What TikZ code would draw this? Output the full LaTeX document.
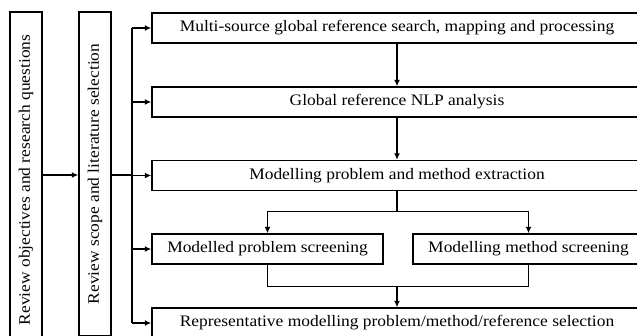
\documentclass[tikz,border=0pt]{standalone}
\usepackage{fontspec}
\setmainfont[FakeStretch=1.09]{Liberation Serif}
\usetikzlibrary{calc,positioning,arrows.meta}

\begin{document}
\begin{tikzpicture}[x=1pt,y=-1pt]
  \tikzstyle{fc}=[
    draw, rectangle,
    line width=1.5pt,
    minimum height=30pt,
    inner sep=0pt,
    font=\fontsize{16}{18}\selectfont
  ]
  \tikzstyle{wc}=[fc, minimum width=490pt]
  \tikzstyle{hc}=[fc, minimum width=231pt]
  \tikzstyle{vc}=[fc, rotate=90, minimum height=32pt]
  \tikzstyle{arr}=[-{Latex[length=6.5pt,width=6pt]}, line width=1.4pt]
  \tikzstyle{ln}=[line width=1.4pt]

  \useasboundingbox (0,0) rectangle (637,335);
  \clip (0,0) rectangle (637,335);

  % left column
  \node[vc, minimum width=336pt] (objectives) at (26,180) {Review objectives and research questions};
  \node[vc, minimum width=324pt] (scope) at (95,174) {Review scope and literature selection};

  % main steps
  \node[wc] (search) at (397,28) {Multi-source global reference search, mapping and processing};
  \node[wc] (nlp) at (397,102) {Global reference NLP analysis};
  \node[wc] (extraction) at (397,175.5) {Modelling problem and method extraction};
  \node[hc] (problem) at (267.5,249) {Modelled problem screening};
  \node[hc] (method) at (528.5,249) {Modelling method screening};
  \node[wc] (selection) at (397,323) {Representative modelling problem/method/reference selection};

  % bus
  \coordinate (bus) at (132,175);
  \coordinate (bustop) at (132,28);
  \coordinate (busbot) at (132,323);
  \draw[arr] (bus -| objectives.south) -- (bus -| scope.north);
  \draw[ln] (bus -| scope.south) -- (bus);
  \draw[ln] (bustop) -- (busbot);
  \foreach \n in {search,nlp,extraction,problem,selection}
    \draw[arr] (bustop |- \n.west) -- (\n.west);

  % flow
  \draw[arr] (search) -- (nlp);
  \draw[arr] (nlp) -- (extraction);
  \draw[ln] (extraction.south) -- ++(0,20) coordinate (split);
  \draw[arr] (split) -| (problem.north);
  \draw[arr] (split) -| (method.north);
  \draw[ln] (problem.south) -- ++(0,22) -| (method.south);
  \coordinate (merge) at ($(problem.south)+(0,22)$);
  \draw[arr] (merge -| selection) -- (selection.north);
\end{tikzpicture}
\end{document}
